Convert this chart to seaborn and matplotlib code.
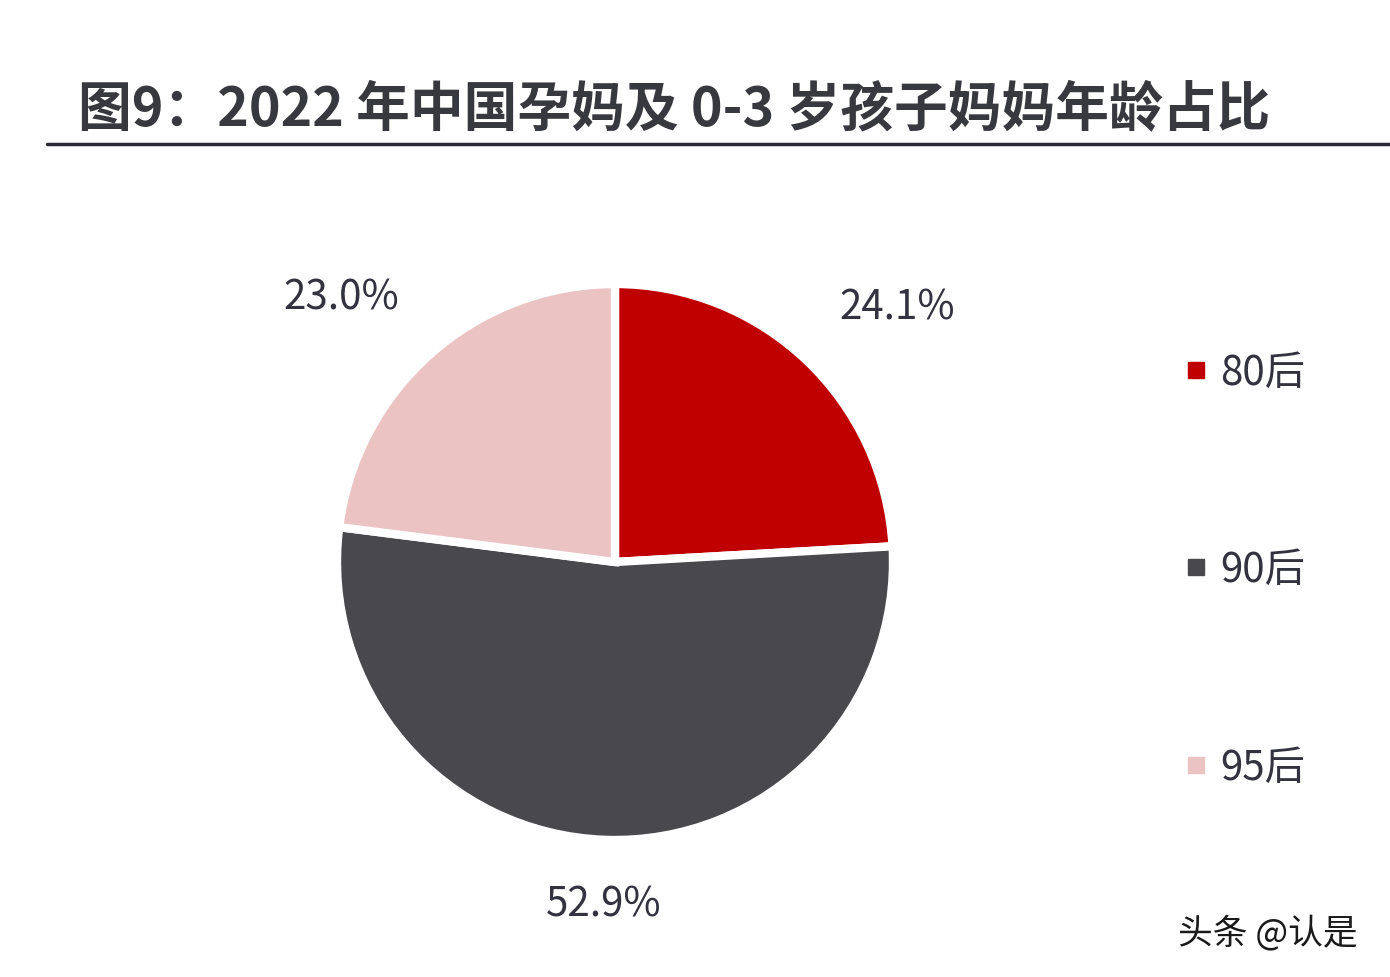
import matplotlib
matplotlib.use("Agg")
import matplotlib.pyplot as plt
import seaborn as sns
import numpy as np
from matplotlib.lines import Line2D

categories = ["80后", "90后", "95后"]
shares = [24.1, 52.9, 23.0]
title = "图9：2022 年中国孕妈及 0-3 岁孩子妈妈年龄占比"
watermark = "头条 @认是"

colors = ["#C00000", "#48484D", "#EBC3C3"]
text_color = "#33333F"
# label placement style: (radial distance, angular offset in degrees)
label_style = [(1.37, -4.5), (1.23, 0.0), (1.37, 4.5)]

sns.set_theme(style="white")
plt.rcParams["font.family"] = ["Noto Sans CJK SC", "DejaVu Sans"]

W, H = 1390, 978
fig = plt.figure(figsize=(W / 100, H / 100), dpi=100)
fig.patch.set_facecolor("white")

R = 278
lim = 1.3
cx, cy = 615, 563
side = 2 * R * lim
ax = fig.add_axes([(cx - side / 2) / W, (H - cy - side / 2) / H, side / W, side / H])
wedges, texts, autotexts = ax.pie(
    shares,
    colors=colors,
    startangle=90,
    counterclock=False,
    autopct="%.1f%%",
    pctdistance=1.36,
    wedgeprops=dict(edgecolor="white", linewidth=6),
    textprops=dict(fontsize=29, color=text_color),
)
for w, t, (d, off) in zip(wedges, autotexts, label_style):
    mid = np.deg2rad((w.theta1 + w.theta2) / 2 + off)
    t.set_position((d * np.cos(mid), d * np.sin(mid)))
ax.set_xlim(-lim, lim)
ax.set_ylim(-lim, lim)
ax.set_aspect("equal")
ax.axis("off")

handles = [Line2D([0], [0], marker="s", linestyle="none", markersize=12,
                  markerfacecolor=c, markeredgecolor=c) for c in colors]
leg = fig.legend(handles, categories, loc="upper left",
                 bbox_to_anchor=(1160 / W, 1 - 333 / H),
                 frameon=False, fontsize=29, labelspacing=3.88,
                 handlelength=0.8, handletextpad=0.2, borderpad=0)
for t in leg.get_texts():
    t.set_color(text_color)

fig.text(78 / W, 1 - 110 / H, title, fontsize=38.7, fontweight="bold",
         color="#38383F", ha="left", va="center")
fig.add_artist(Line2D([47 / W, 1.0], [1 - 145 / H, 1 - 145 / H],
                      transform=fig.transFigure, color="#2B2B33", linewidth=2.5))

fig.text(1268 / W, 1 - 933 / H, watermark, fontsize=25, color="#1A1A1A",
         ha="center", va="center")

fig.savefig("out.png", dpi=100, facecolor="white")
